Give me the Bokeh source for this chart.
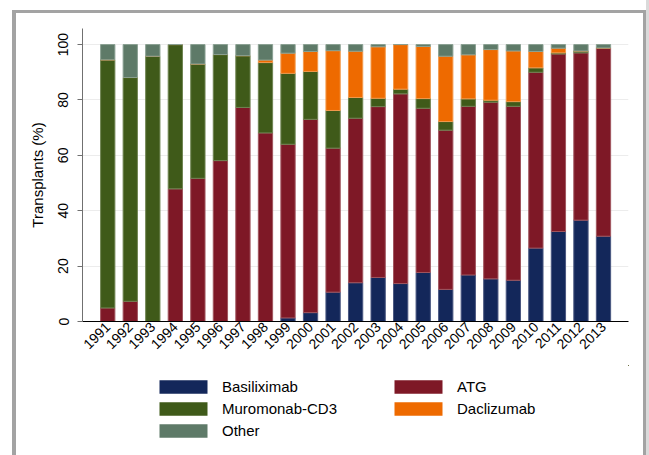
import math
from bokeh.plotting import figure
from bokeh.layouts import column
from bokeh.models import (Range1d, FixedTicker, Legend, LegendItem, ColumnDataSource)
from bokeh.embed import file_html
from bokeh.resources import INLINE

years = list(range(1991, 2014))
basiliximab = [0, 0, 0, 0, 0, 0, 0, 0, 1.3, 3.2, 10.6, 14.0, 15.9, 13.7, 17.7, 11.6,
               16.8, 15.4, 14.9, 26.5, 32.5, 36.6, 30.8]
atg = [4.9, 7.3, 0, 47.9, 51.7, 58.1, 77.3, 68.1, 62.7, 69.8, 52.0, 59.4, 61.7, 68.5,
       59.3, 57.5, 60.9, 63.8, 62.8, 63.5, 64.1, 60.4, 68.0]
muromonab = [89.6, 80.8, 95.8, 52.1, 41.3, 38.3, 18.7, 25.4, 25.6, 17.3, 13.6, 7.5, 3.0,
             1.7, 3.5, 3.1, 2.7, 0.7, 1.7, 1.6, 0.4, 0.7, 0]
daclizumab = [0, 0, 0, 0, 0, 0, 0, 0.9, 7.3, 7.2, 21.6, 16.7, 18.6, 16.1, 18.8, 23.6,
              15.9, 18.3, 18.3, 5.9, 1.7, 0, 0]
other = [5.5, 11.9, 4.2, 0, 7.0, 3.6, 4.0, 5.6, 3.1, 2.5, 2.2, 2.4, 0.8, 0, 0.7, 4.2,
         3.7, 1.8, 2.3, 2.5, 1.3, 2.3, 1.2]
y_ticks = [0, 20, 40, 60, 80, 100]

series = ["Basiliximab", "ATG", "Muromonab-CD3", "Daclizumab", "Other"]
fills = ["#13275a", "#7e1826", "#3f5a19", "#ee6a00", "#5e7a68"]
edges = ["#4a5780", "#a0555e", "#6f8452", "#f39a4d", "#8aa092"]

src = ColumnDataSource(dict(year=years, **{
    "Basiliximab": basiliximab, "ATG": atg, "Muromonab-CD3": muromonab,
    "Daclizumab": daclizumab, "Other": other}))

FONT = "Liberation Sans"
BAR_W = 0.634

p = figure(width=649, height=365, output_backend="svg", toolbar_location=None,
           x_range=Range1d(1989.88, 2014.11), y_range=Range1d(0, 105.8),
           min_border_left=82, min_border_right=21, min_border_top=28,
           min_border_bottom=44)
p.outline_line_color = None
p.background_fill_alpha = 0
p.border_fill_alpha = 0

rs = p.vbar_stack(series, x="year", width=BAR_W, source=src,
                  fill_color=fills, line_color=edges, line_width=1)

p.xgrid.visible = False
p.ygrid.ticker = FixedTicker(ticks=y_ticks)
p.ygrid.grid_line_color = "#ececec"

xa = p.xaxis[0]
xa.ticker = FixedTicker(ticks=years)
xa.major_label_orientation = math.pi / 4
xa.major_tick_out = 0
xa.major_tick_in = 0
xa.minor_tick_out = 0
xa.minor_tick_in = 0
xa.axis_line_color = "black"
xa.major_label_text_font = FONT
xa.major_label_text_font_size = "14px"
xa.major_label_text_color = "black"
xa.major_label_standoff = 3

ya = p.yaxis[0]
ya.ticker = FixedTicker(ticks=y_ticks)
ya.major_label_orientation = "vertical"
ya.major_tick_out = 5
ya.major_tick_in = 0
ya.minor_tick_out = 0
ya.minor_tick_in = 0
ya.axis_line_color = "#707070"
ya.major_tick_line_color = "#707070"
ya.major_label_text_font = FONT
ya.major_label_text_font_size = "14px"
ya.major_label_text_color = "black"
ya.major_label_standoff = 9
ya.axis_label = "Transplants (%)"
ya.axis_label_text_font = FONT
ya.axis_label_text_font_size = "15px"
ya.axis_label_text_font_style = "normal"
ya.axis_label_text_color = "black"
ya.axis_label_standoff = 10

# legend panel: a second figure whose view lies far away from the (same) bars,
# so only the legend is visible and it is not clipped by the chart frame
p2 = figure(width=649, height=90, output_backend="svg", toolbar_location=None,
            x_range=Range1d(0, 1), y_range=Range1d(-100000, -99999),
            x_axis_location=None, y_axis_location=None, min_border=0)
p2.grid.visible = False
p2.outline_line_color = None
p2.background_fill_alpha = 0
p2.border_fill_alpha = 0
swatches = p2.vbar_stack(series, x="year", width=BAR_W, source=src,
                         fill_color=fills, line_color=None)

order = [0, 2, 4, 1, 3]
legend = Legend(items=[LegendItem(label=series[i], renderers=[swatches[i]]) for i in order],
                ncols=2, location=(71, 16.5), padding=0, margin=0, spacing=5,
                glyph_width=60, glyph_height=17, label_standoff=9, label_width=161,
                label_text_font=FONT, label_text_font_size="15px",
                label_text_color="black", border_line_alpha=0,
                background_fill_alpha=0)
p2.add_layout(legend)

bar = "linear-gradient(#a3a3a3,#a3a3a3)"
layout = column(p, p2, spacing=0, styles={
    "background": (f"{bar} 12px 10px / 4px 100% no-repeat, "
                   f"{bar} 12px 10px / 634px 3px no-repeat, "
                   f"{bar} 643px 10px / 3px 100% no-repeat, "
                   "linear-gradient(#dadada,#dadada) 646px 0px / 3px 100% no-repeat, "
                   "white")})

open("out.html", "w").write(file_html(layout, INLINE))
